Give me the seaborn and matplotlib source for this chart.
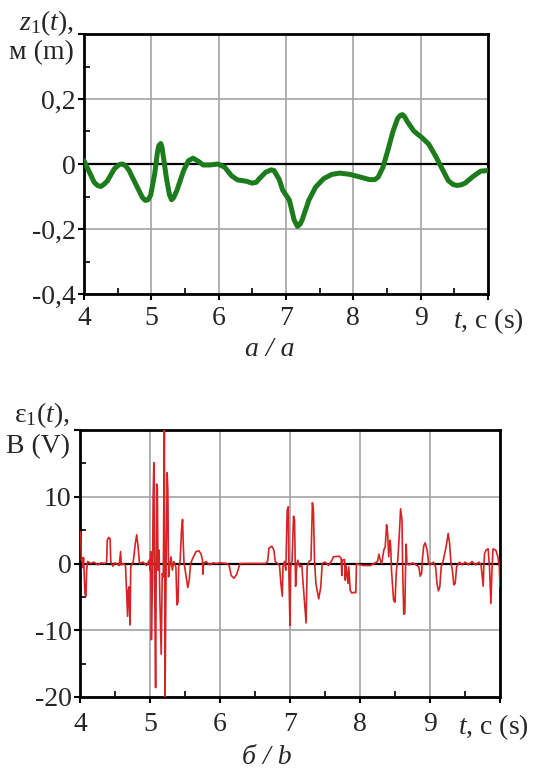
import matplotlib
matplotlib.use("Agg")
import matplotlib.pyplot as plt
import seaborn as sns
import pandas as pd
from matplotlib.ticker import MultipleLocator

# z1(t), m  -- panel a
z_t = [4.00, 4.08, 4.15, 4.20, 4.25, 4.30, 4.35, 4.45, 4.52, 4.57, 4.62, 4.67, 4.79, 4.87,
       4.91, 4.95, 4.99, 5.05, 5.09, 5.11, 5.14, 5.16, 5.18, 5.23, 5.27, 5.30, 5.33, 5.38,
       5.48, 5.55, 5.62, 5.70, 5.77, 5.87, 5.99, 6.09, 6.19, 6.28, 6.41, 6.50, 6.56, 6.60,
       6.70, 6.78, 6.82, 6.85, 6.90, 6.95, 7.05, 7.12, 7.17, 7.21, 7.24, 7.34, 7.44, 7.56,
       7.68, 7.80, 7.95, 8.10, 8.24, 8.32, 8.37, 8.44, 8.51, 8.59, 8.66, 8.70, 8.73, 8.76,
       8.80, 8.90, 9.02, 9.12, 9.22, 9.32, 9.41, 9.48, 9.54, 9.60, 9.66, 9.78, 9.89, 10.00]
z_val = [0.010, -0.025, -0.056, -0.066, -0.069, -0.062, -0.051, -0.015, -0.002, 0.000, -0.006,
         -0.020, -0.071, -0.104, -0.112, -0.110, -0.096, -0.030, 0.035, 0.056, 0.063, 0.050,
         0.020, -0.051, -0.095, -0.110, -0.104, -0.081, -0.020, 0.010, 0.018, 0.008, -0.003,
         -0.003, 0.000, -0.010, -0.036, -0.049, -0.053, -0.059, -0.056, -0.046, -0.025, -0.018,
         -0.020, -0.030, -0.048, -0.080, -0.111, -0.172, -0.192, -0.185, -0.172, -0.111, -0.071,
         -0.045, -0.032, -0.028, -0.032, -0.040, -0.048, -0.048, -0.040, -0.010, 0.040, 0.101,
         0.141, 0.150, 0.152, 0.146, 0.131, 0.101, 0.081, 0.061, 0.025, -0.015, -0.051, -0.063,
         -0.066, -0.064, -0.059, -0.038, -0.022, -0.020]

# eps1(t), V  -- panel b
e_t = [4.000, 4.010, 4.020, 4.030, 4.040, 4.050, 4.060, 4.070, 4.085, 4.095, 4.110, 4.150,
       4.200, 4.250, 4.300, 4.350, 4.380, 4.390, 4.410, 4.430, 4.440, 4.470, 4.500, 4.560,
       4.580, 4.590, 4.620, 4.650, 4.680, 4.690, 4.700, 4.715, 4.725, 4.760, 4.790, 4.810,
       4.830, 4.850, 4.900, 4.950, 4.990, 5.000, 5.010, 5.020, 5.035, 5.045, 5.055, 5.065,
       5.080, 5.095, 5.105, 5.115, 5.130, 5.140, 5.160, 5.175, 5.190, 5.205, 5.215, 5.230,
       5.245, 5.255, 5.265, 5.280, 5.300, 5.320, 5.340, 5.370, 5.385, 5.400, 5.410, 5.430,
       5.450, 5.465, 5.475, 5.485, 5.510, 5.540, 5.560, 5.580, 5.620, 5.660, 5.700, 5.730,
       5.750, 5.755, 5.765, 5.800, 5.850, 5.900, 5.950, 6.000, 6.100, 6.130, 6.160, 6.200,
       6.240, 6.270, 6.290, 6.400, 6.550, 6.650, 6.680, 6.700, 6.740, 6.770, 6.790, 6.820,
       6.850, 6.870, 6.890, 6.900, 6.920, 6.940, 6.960, 6.975, 6.985, 7.000, 7.010, 7.030,
       7.050, 7.065, 7.080, 7.095, 7.110, 7.140, 7.170, 7.180, 7.230, 7.245, 7.270, 7.300,
       7.320, 7.335, 7.350, 7.370, 7.410, 7.440, 7.460, 7.500, 7.550, 7.600, 7.620, 7.700,
       7.730, 7.740, 7.750, 7.780, 7.790, 7.800, 7.830, 7.840, 7.860, 7.880, 7.900, 7.920,
       7.940, 7.950, 8.000, 8.050, 8.150, 8.200, 8.250, 8.270, 8.290, 8.310, 8.340, 8.360,
       8.380, 8.395, 8.410, 8.430, 8.440, 8.450, 8.480, 8.500, 8.520, 8.540, 8.560, 8.580,
       8.600, 8.610, 8.625, 8.640, 8.650, 8.660, 8.670, 8.700, 8.750, 8.800, 8.840, 8.860,
       8.880, 8.890, 8.910, 8.930, 8.960, 8.980, 9.000, 9.050, 9.080, 9.100, 9.120, 9.140,
       9.160, 9.190, 9.230, 9.260, 9.280, 9.300, 9.320, 9.340, 9.360, 9.380, 9.420, 9.460,
       9.500, 9.550, 9.600, 9.650, 9.700, 9.730, 9.760, 9.770, 9.780, 9.800, 9.830, 9.850,
       9.870, 9.885, 9.900, 9.940, 9.970, 9.990, 10.000]
e_val = [4.8, 4.6, 0.5, 0.8, -0.6, 0.9, -1.5, -4.5, -4.9, -1.0, 0.3, 0.0,
         0.2, -0.2, 0.1, 0.0, 0.2, 3.5, 3.9, 3.7, 0.3, -0.4, 0.1, -0.3,
         1.8, -0.2, 0.0, -0.3, -7.9, -4.0, -3.5, -9.2, -0.5, 0.2, 3.0, 4.3,
         2.5, 0.0, 0.2, -0.3, 0.5, -1.0, 1.8, -11.4, -3.0, 10.0, 15.1, -1.0,
         -18.6, 11.9, 11.5, -1.0, 2.0, -5.0, -13.6, -1.5, -2.0, 20.0, -20.0, -1.0,
         13.6, 11.0, -2.0, -0.5, 1.0, -1.0, 0.3, -0.5, -6.2, -5.8, -0.5, 0.3,
         5.0, 6.6, 3.0, 0.2, -1.5, -3.6, -2.5, 0.0, 1.0, 1.8, 1.9, 1.4,
         0.5, -1.6, 0.0, 0.3, -0.2, 0.1, 0.0, 0.1, 0.0, -0.3, -1.8, -2.2,
         -1.6, -0.5, 0.0, 0.0, 0.0, 0.0, 0.3, 2.3, 2.6, 2.0, 0.3, 0.0,
         -0.3, -3.0, -4.9, -0.5, 0.3, -1.0, 8.0, 8.5, -2.0, -9.3, -0.5, 0.4,
         7.1, 6.5, -3.4, -0.5, 0.5, -0.5, -0.3, -2.0, -8.9, -0.5, 0.3, 0.5,
         9.1, 8.0, 0.5, -3.0, -5.3, -3.5, 0.0, 0.2, -0.3, 0.5, 1.0, 1.1,
         0.8, -1.8, 0.5, 0.6, -2.5, -0.3, -3.0, -0.5, -4.0, -4.4, -4.4, -4.3,
         -4.4, 0.0, -0.2, -0.3, -0.3, 0.0, 0.3, 1.4, 0.5, 0.0, 2.0, 2.5,
         5.8, 4.5, 1.0, 3.5, 2.2, -1.0, -5.5, -5.8, -1.0, 0.5, 4.0, 8.2,
         6.5, -1.0, -7.6, -7.5, -1.0, 2.9, 0.0, -0.2, 0.1, -0.2, -0.5, -1.9,
         -1.5, 0.5, 2.6, 3.1, 2.0, 0.0, -0.2, 0.2, -0.5, -3.0, -4.1, -3.5,
         -0.5, 0.5, 2.5, 4.5, 3.0, 0.0, -1.0, -3.2, -3.0, -0.5, 0.2, -0.2,
         0.2, -0.2, 0.3, -0.2, 0.2, -0.3, -3.4, -0.2, 1.5, 2.0, 2.2, -0.5,
         -6.0, -1.0, 2.2, 2.0, 1.0, -0.5, -3.4]

x_ticks = [4, 5, 6, 7, 8, 9, 10]
x_labels = ["4", "5", "6", "7", "8", "9", ""]
z_ticks = [-0.4, -0.2, 0, 0.2, 0.4]
z_labels = ["-0,4", "-0,2", "0", "0,2", ""]
e_ticks = [-20, -10, 0, 10, 20]
e_labels = ["-20", "-10", "0", "10", ""]

sns.set_theme(style="white")
plt.rcParams["font.family"] = ["Liberation Serif", "DejaVu Serif"]
plt.rcParams["mathtext.fontset"] = "custom"
plt.rcParams["mathtext.rm"] = "Liberation Serif"
plt.rcParams["mathtext.it"] = "Liberation Serif:italic"

FS = 20

fig = plt.figure(figsize=(5.34, 7.81), dpi=100)
ax1 = fig.add_axes([84 / 534, 1 - 294 / 781, 404 / 534, 260 / 781])
ax2 = fig.add_axes([80 / 534, 1 - 697 / 781, 420 / 534, 267 / 781])

z_df = pd.DataFrame({"t": z_t, "z": z_val})
e_df = pd.DataFrame({"t": e_t, "e": e_val})

for ax in (ax1, ax2):
    ax.axhline(0, color="black", lw=1.6, zorder=2)

sns.lineplot(data=z_df, x="t", y="z", ax=ax1, color="#1c7c1c", lw=3.6,
             sort=False, estimator=None, zorder=3)
sns.lineplot(data=e_df, x="t", y="e", ax=ax2, color="#d62424", lw=1.2,
             sort=False, estimator=None, zorder=3)

# (axes, y ticks, y labels, minor step, x-label pad, x-label shift)
setup = [(ax1, z_ticks, z_labels, 0.1, 5, 0.0), (ax2, e_ticks, e_labels, 5, 7, -5)]
for ax, yt, yl, ymin, xpad, xoff in setup:
    ax.set_xlim(4, 10)
    ax.set_ylim(yt[0], yt[-1])
    ax.set_xticks(x_ticks)
    ax.set_xticklabels(x_labels)
    ax.set_yticks(yt)
    ax.set_yticklabels(yl)
    ax.xaxis.set_minor_locator(MultipleLocator(0.5))
    ax.yaxis.set_minor_locator(MultipleLocator(ymin))
    ax.grid(True, which="major", color="#a3a3a3", lw=1.2)
    ax.set_axisbelow(True)
    ax.tick_params(which="major", direction="out", length=4, width=1.5, color="black",
                   labelsize=FS, pad=2, left=True, bottom=True)
    ax.tick_params(axis="x", which="major", pad=xpad)
    ax.tick_params(which="minor", direction="in", length=4, width=1.2, color="black",
                   left=True, bottom=True)
    for s in ax.spines.values():
        s.set_color("black")
        s.set_linewidth(2)
    ax.set_xlabel("")
    ax.set_ylabel("")
    ax.annotate("$t$, с (s)", xy=(1, 0), xycoords="axes fraction",
                xytext=(xoff, -(xpad + 4)), textcoords="offset points",
                ha="center", va="top", fontsize=FS)

fig.text(74 / 534, 1 - 23 / 781, "$z_1(t)$,", ha="right", va="center", fontsize=FS)
fig.text(74 / 534, 1 - 53 / 781, "м (m)", ha="right", va="center", fontsize=FS)
fig.text(70 / 534, 1 - 415 / 781, r"$\mathrm{ε}_1(t)$,", ha="right", va="center", fontsize=FS)
fig.text(70 / 534, 1 - 447 / 781, "В (V)", ha="right", va="center", fontsize=FS)

fig.text(0.505, 1 - 349 / 781, "а / a", ha="center", va="center", fontsize=FS, style="italic")
fig.text(0.5, 1 - 757 / 781, "б / b", ha="center", va="center", fontsize=FS, style="italic")

fig.savefig("out.png", dpi=100)
